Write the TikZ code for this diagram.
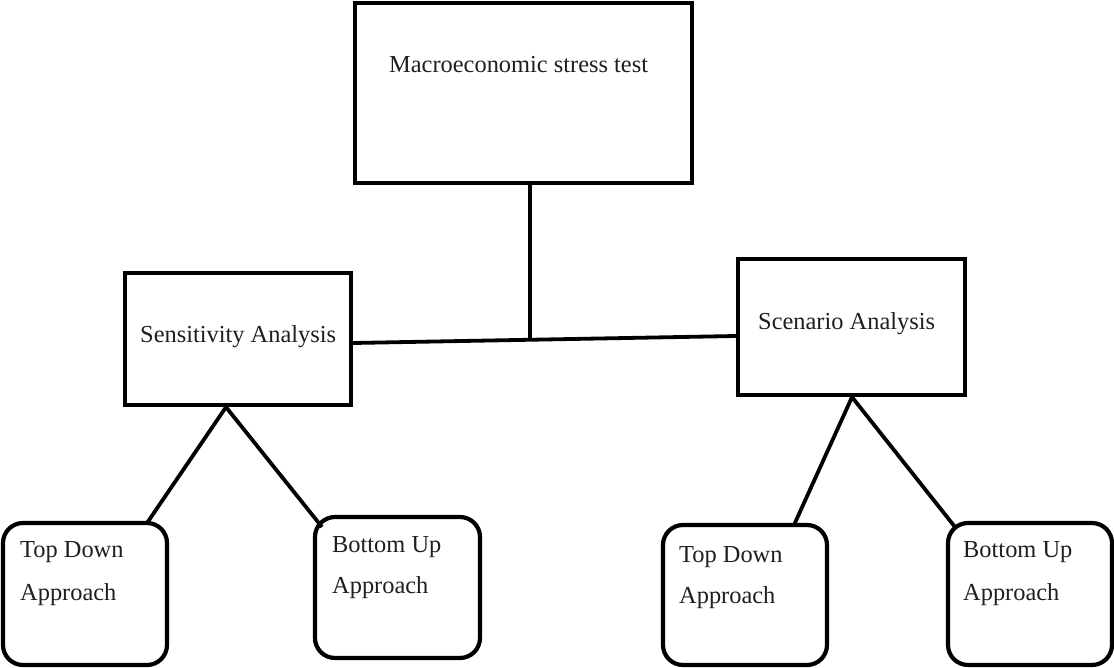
\documentclass[tikz,border=0pt]{standalone}
\usepackage{fontspec}
\setmainfont{Liberation Serif}
\begin{document}
\begin{tikzpicture}[x=1pt,y=-1pt,
  boxa/.style={draw=black,line width=4.2pt,rectangle,inner sep=0pt},
  boxr/.style={draw=black,line width=4.2pt,rectangle,rounded corners=20pt,inner sep=0pt},
  lbl/.style={anchor=base west,inner sep=0pt,font=\fontsize{24.4}{28}\selectfont,text=black!88},
  conn/.style={draw=black,line width=3.8pt}]
\fill[white] (0,0) rectangle (1114,668);
\useasboundingbox (0,0) rectangle (1114,668);
% boxes
\node[boxa,minimum width=337pt,minimum height=180pt] (top) at (523.5,93) {};
\node[boxa,minimum width=226pt,minimum height=132pt] (sens) at (238,339) {};
\node[boxa,minimum width=227pt,minimum height=136pt] (scen) at (851.5,327) {};
\node[boxr,minimum width=164pt,minimum height=142pt] (tdl) at (85,594) {};
\node[boxr,minimum width=165pt,minimum height=141pt] (bul) at (397.5,587.5) {};
\node[boxr,minimum width=164pt,minimum height=140pt] (tdr) at (745,595) {};
\node[boxr,minimum width=164pt,minimum height=142pt] (bur) at (1030,594) {};
% texts
\node[lbl] (ttop) at (389,73) {Macroeconomic stress test};
\node[lbl] (tsens) at (140,343) {Sensitivity Analysis};
\node[lbl] (tscen) at (758,330) {Scenario Analysis};
\node[lbl] (ttdl1) at (20,557) {Top Down};
\node[lbl] (ttdl2) at (20,600) {Approach};
\node[lbl] (tbul1) at (332,552) {Bottom Up};
\node[lbl] (tbul2) at (332,593) {Approach};
\node[lbl] (ttdr1) at (679,562) {Top Down};
\node[lbl] (ttdr2) at (679,603) {Approach};
\node[lbl] (tbur1) at (963,557) {Bottom Up};
\node[lbl] (tbur2) at (963,600) {Approach};
% connector points
\coordinate (hl) at (351,343);
\coordinate (hr) at (738,336);
\coordinate (j) at (530,339.6);
\coordinate (sa) at (226,405);
\coordinate (tdlp) at (147,523);
\coordinate (bulp) at (322,527);
\coordinate (ra) at (852,395);
\coordinate (tdrp) at (794,525);
\coordinate (burp) at (955,527);
% connectors
\draw[conn] (sens.east |- hl) -- (scen.west |- hr);
\draw[conn] (top.south -| j) -- (j);
\draw[conn,line join=miter] (tdlp) -- (sens.south -| sa) -- (bulp);
\draw[conn,line join=miter] (tdrp) -- (scen.south -| ra) -- (burp);
\end{tikzpicture}
\end{document}
